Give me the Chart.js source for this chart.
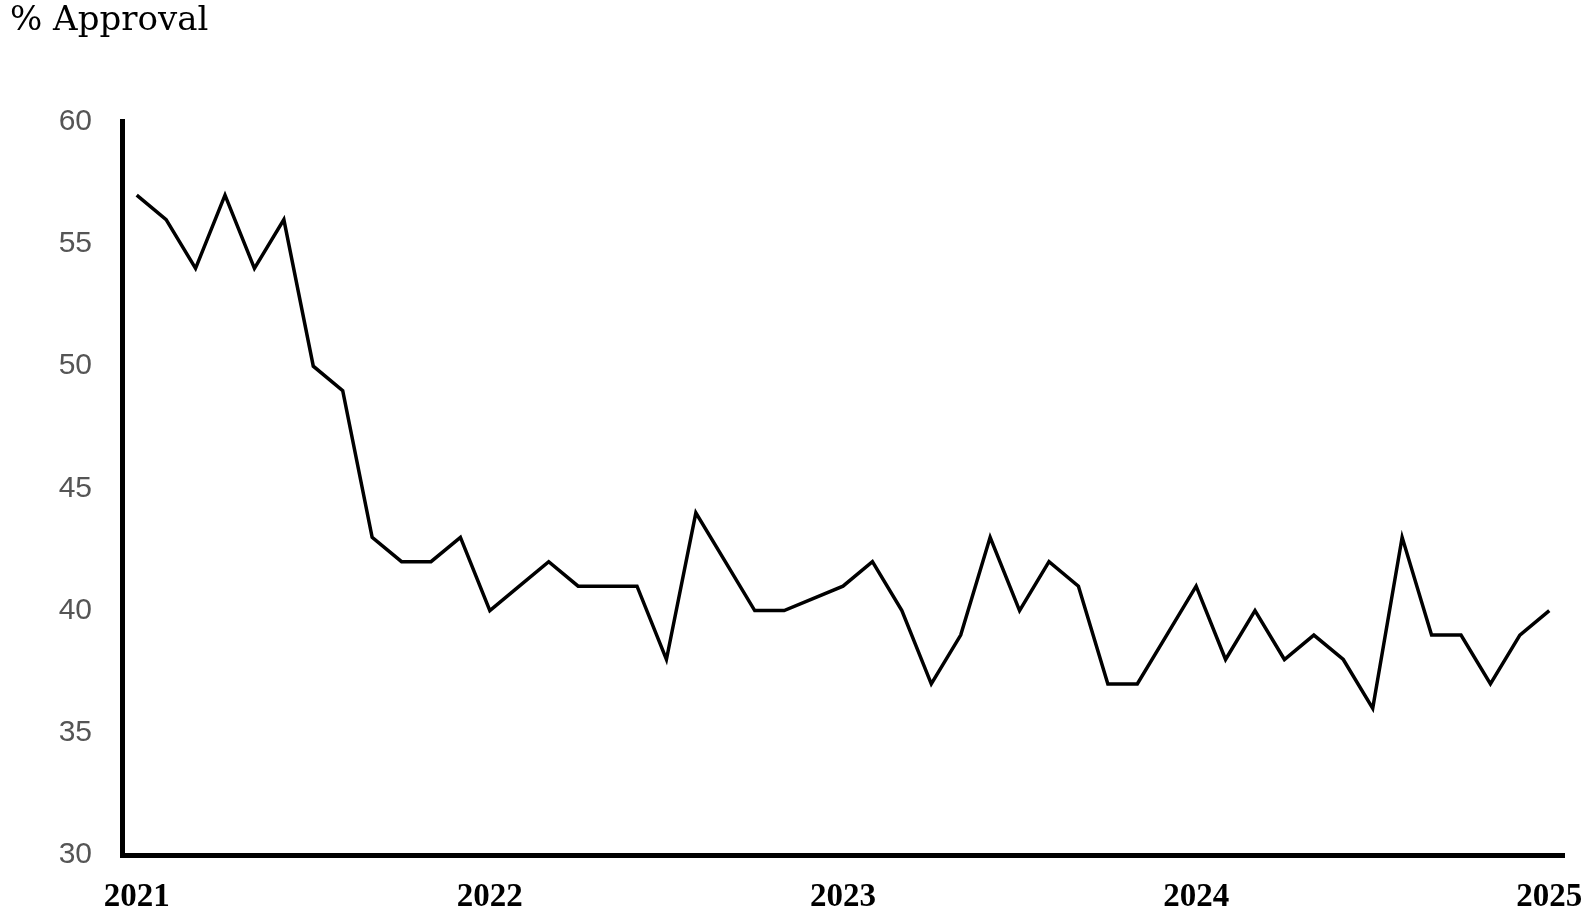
<!DOCTYPE html>
<html>
<head>
<meta charset="utf-8">
<script src="https://cdn.jsdelivr.net/npm/chart.js@4"></script>
<style>
  body { margin: 0; background: #fff; }
</style>
</head>
<body>
<canvas id="chart" width="1595" height="911"></canvas>
<script>
// monthly approval, Jan 2021 .. Jan 2025
const months = [
  '2021-01','2021-02','2021-03','2021-04','2021-05','2021-06','2021-07','2021-08','2021-09','2021-10','2021-11','2021-12',
  '2022-01','2022-02','2022-03','2022-04','2022-05','2022-06','2022-07','2022-08','2022-09','2022-10','2022-11','2022-12',
  '2023-01','2023-02','2023-03','2023-04','2023-05','2023-06','2023-07','2023-08','2023-09','2023-10','2023-11','2023-12',
  '2024-01','2024-02','2024-03','2024-04','2024-05','2024-06','2024-07','2024-08','2024-09','2024-10','2024-11','2024-12',
  '2025-01'
];
const approval = [
  57, 56, 54, 57, 54, 56, 50, 49, 43, 42, 42, 43,
  40, 41, 42, 41, 41, 41, 38, 44, 42, 40, 40, 40.5,
  41, 42, 40, 37, 39, 43, 40, 42, 41, 37, 37, 39,
  41, 38, 40, 38, 39, 38, 36, 43, 39, 39, 37, 39,
  40
];
const yTicks = [30, 35, 40, 45, 50, 55, 60];

new Chart(document.getElementById('chart'), {
  type: 'line',
  data: {
    labels: months,
    datasets: [{
      label: '% Approval',
      data: approval,
      borderColor: '#000',
      borderWidth: 3.5,
      pointRadius: 0,
      tension: 0,
      fill: false
    }]
  },
  options: {
    responsive: false,
    animation: false,
    layout: { padding: { left: 10, right: 31, top: 0, bottom: 0 } },
    plugins: {
      legend: { display: false },
      tooltip: { enabled: false },
      title: {
        display: true,
        text: '% Approval',
        align: 'start',
        color: '#000',
        font: { family: 'DejaVu Serif', size: 34, weight: 'normal' },
        padding: { top: 1, bottom: 80 }
      }
    },
    scales: {
      x: {
        type: 'category',
        offset: true,
        grid: { display: false, drawTicks: false },
        border: { display: true, color: '#000', width: 5 },
        ticks: {
          autoSkip: false,
          maxRotation: 0,
          padding: 23,
          color: '#000',
          font: { family: 'Liberation Serif', size: 33, weight: 'bold' },
          callback: function (v, i) {
            const m = months[i];
            return m.endsWith('-01') ? m.slice(0, 4) : '';
          }
        },
        afterFit: function (s) {
          s.height = 56;
          s.paddingLeft = 0;
          s.paddingRight = 0;
        }
      },
      y: {
        min: 30,
        max: 60,
        grid: { display: false, drawTicks: false },
        border: { display: true, color: '#000', width: 5 },
        afterBuildTicks: function (s) { s.ticks = yTicks.map(v => ({ value: v })); },
        ticks: {
          padding: 30,
          color: '#555',
          font: { family: 'Liberation Sans', size: 30 }
        },
        afterFit: function (s) { s.width = 112; }
      }
    }
  }
});
</script>
</body>
</html>
